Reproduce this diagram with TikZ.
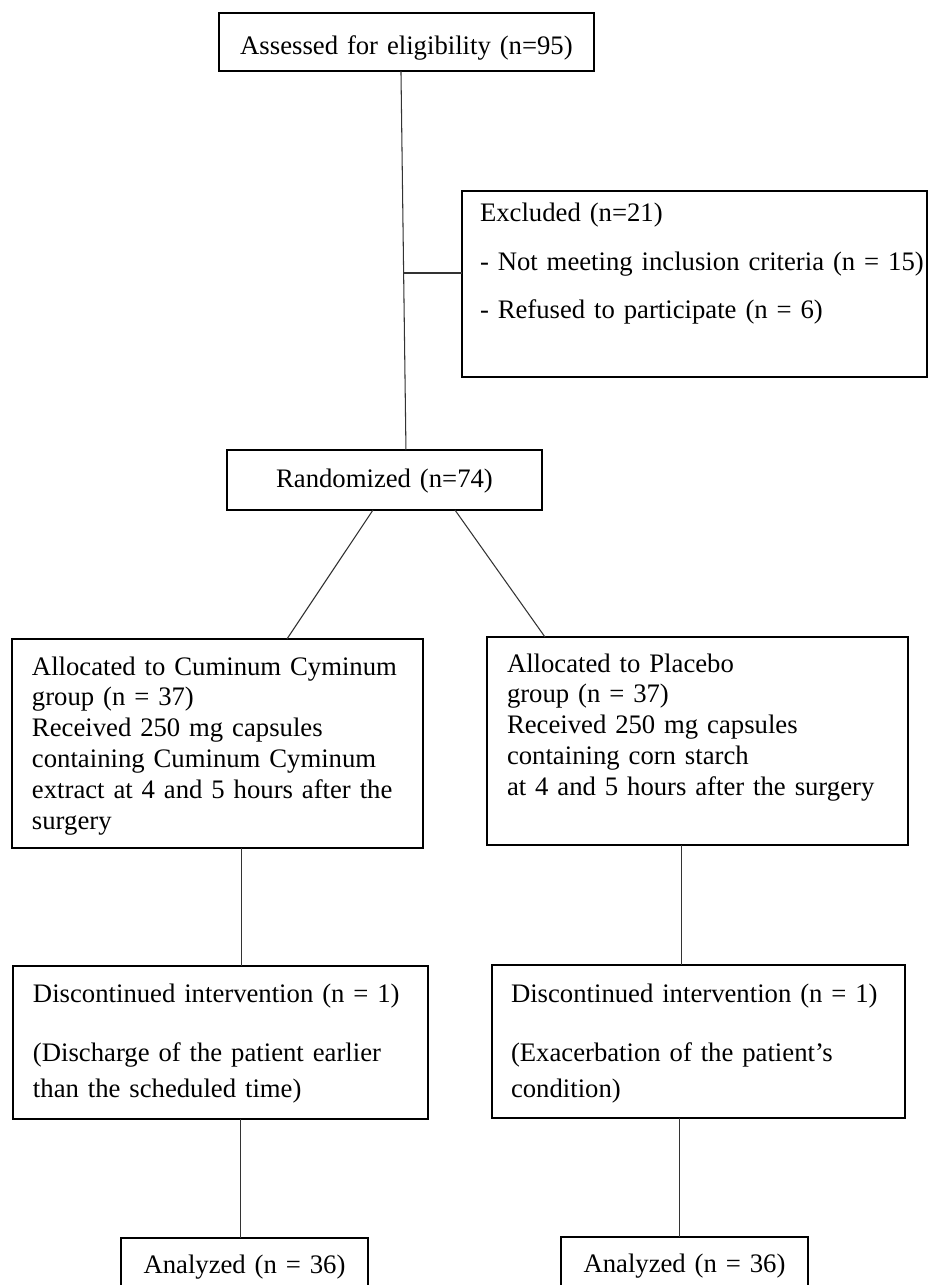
\documentclass[tikz,border=0pt]{standalone}
\usepackage{fontspec}
\setmainfont{Liberation Serif}
\newcommand{\boxfont}{\fontsize{15.2}{17.6}\selectfont}
\tikzset{
  flowbox/.style={
    draw=black, line width=1.1pt, outer sep=0pt,
    inner xsep=0.4cm, inner ysep=0pt,
    font=\boxfont, align=left, anchor=north west,
  },
  centerbox/.style={flowbox, align=center},
  link/.style={draw=black!80, line width=0.6pt},
}
\begin{document}
\begin{tikzpicture}[x=0.02cm, y=-0.02cm]
  \clip (0,0) rectangle (928,1285);

  % Enrollment
  \node[centerbox, text width=6.66cm, inner xsep=0.42cm,
        text height=0.84cm, text depth=0.32cm]
    (assess) at (219,13) {Assessed for eligibility (n=95)};
  \node[flowbox, text width=8.58cm, inner xsep=0.36cm,
        text height=0.62cm, text depth=3.1cm]
    (excl) at (462,191) {Excluded (n=21)\\[10pt]
      \mbox{- Not meeting inclusion criteria (n = 15)}\\[10pt]
      - Refused to participate (n = 6)};
  \node[centerbox, text width=5.46cm, inner xsep=0.42cm,
        text height=0.74cm, text depth=0.46cm]
    (rand) at (227,450) {Randomized (n=74)};

  % Allocation
  \node[flowbox, text width=7.42cm, text height=0.72cm, text depth=3.46cm]
    (allocL) at (12,639) {Allocated to Cuminum Cyminum\\
      group (n = 37)\\
      Received 250 mg capsules\\
      containing Cuminum Cyminum\\
      extract at 4 and 5 hours after the\\
      surgery};
  \node[flowbox, text width=7.62cm, text height=0.7cm, text depth=3.46cm]
    (allocR) at (487,637) {Allocated to Placebo\\
      group (n = 37)\\
      Received 250 mg capsules\\
      containing corn starch\\
      at 4 and 5 hours after the surgery};

  % Follow-up
  \node[flowbox, text width=7.5cm, text height=0.72cm, text depth=2.34cm]
    (discL) at (13,966) {Discontinued intervention (n = 1)\\[16.5pt]
      (Discharge of the patient earlier\\[2.8pt]
      than the scheduled time)};
  \node[flowbox, text width=7.5cm, inner xsep=0.38cm,
        text height=0.74cm, text depth=2.32cm]
    (discR) at (492,965) {Discontinued intervention (n = 1)\\[16.5pt]
      (Exacerbation of the patient's\\[2.8pt]
      condition)};

  % Analysis
  \node[centerbox, text width=4.14cm, text height=0.7cm, text depth=0.6cm]
    (anaL) at (121,1238) {Analyzed (n = 36)};
  \node[centerbox, text width=4.14cm, text height=0.7cm, text depth=0.6cm]
    (anaR) at (561,1237) {Analyzed (n = 36)};

  % Connectors
  \draw[link] ([xshift=-0.11cm]assess.south) -- ([xshift=0.43cm]rand.north);
  \coordinate (split) at (403.7,273);
  \draw[link] (split) -- (split -| excl.west);
  \draw[link] ([xshift=-0.23cm]rand.south) -- ([xshift=1.39cm]allocL.north);
  \draw[link] ([xshift=1.41cm]rand.south) -- ([xshift=-3.05cm]allocR.north);
  \draw[link] ([xshift=0.49cm]allocL.south) -- ([xshift=0.49cm]allocL.south |- discL.north);
  \draw[link] ([xshift=-0.31cm]allocR.south) -- ([xshift=-0.31cm]allocR.south |- discR.north);
  \draw[link] ([xshift=0.41cm]discL.south) -- ([xshift=0.41cm]discL.south |- anaL.north);
  \draw[link] ([xshift=-0.37cm]discR.south) -- ([xshift=-0.37cm]discR.south |- anaR.north);
\end{tikzpicture}
\end{document}
